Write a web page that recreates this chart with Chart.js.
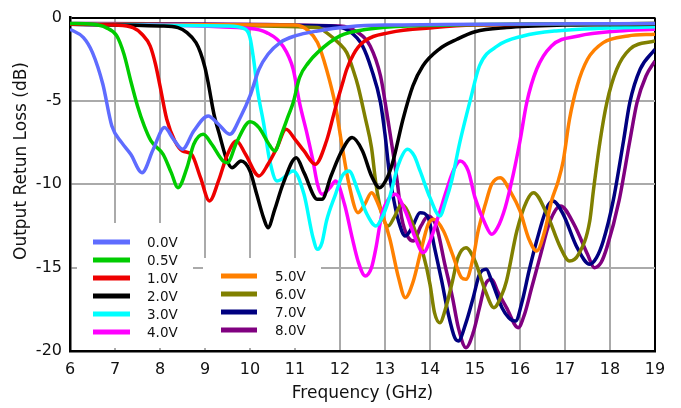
<!DOCTYPE html>
<html>
<head>
<meta charset="utf-8">
<script src="https://cdn.jsdelivr.net/npm/chart.js@4.4.1/dist/chart.umd.min.js"></script>
<style>
  html, body { margin: 0; padding: 0; background: #fff; }
  #wrap { width: 681px; height: 408px; position: relative; }
</style>
</head>
<body>
<div id="wrap"><canvas id="chart"></canvas></div>
<script>
// axis ticks
const freqTicks = [6, 7, 8, 9, 10, 11, 12, 13, 14, 15, 16, 17, 18, 19];
const lossTicks = [0, -5, -10, -15, -20];

// bias voltages (legend labels)
const biasLabels = ["0.0V", "0.5V", "1.0V", "2.0V", "3.0V", "4.0V", "5.0V", "6.0V", "7.0V", "8.0V"];

// [frequency GHz, return loss dB]
const v00 = [[6, -0.7], [6.3, -1.2], [6.5, -2.1], [6.73, -4.0], [6.93, -6.5], [7.15, -7.5], [7.35, -8.2], [7.6, -9.3],
  [7.85, -7.9], [8.1, -6.6], [8.3, -7.3], [8.5, -7.9], [8.75, -6.8], [9.07, -5.9], [9.3, -6.4], [9.55, -7.0],
  [9.8, -5.9], [10.0, -4.7], [10.2, -3.1], [10.4, -2.2], [10.67, -1.5], [11.0, -1.1], [11.5, -0.8], [12.2, -0.55],
  [13, -0.45], [19, -0.35]];
const v05 = [[6, -0.35], [6.5, -0.4], [6.8, -0.6], [7.04, -1.1], [7.2, -2.2], [7.35, -3.8], [7.5, -5.3], [7.65, -6.5],
  [7.8, -7.4], [8.07, -8.2], [8.25, -9.3], [8.4, -10.2], [8.6, -9.0], [8.75, -7.6], [8.96, -7.0], [9.15, -7.6],
  [9.4, -8.6], [9.5, -8.7], [9.7, -7.5], [10.0, -6.25], [10.2, -6.6], [10.4, -7.5], [10.55, -8.0], [10.7, -7.0],
  [10.85, -5.9], [10.96, -5.1], [11.1, -3.6], [11.3, -2.7], [11.5, -2.1], [12, -1.1], [12.6, -0.7], [13.5, -0.5],
  [19, -0.35]];
const v10 = [[6, -0.4], [7, -0.45], [7.4, -0.6], [7.6, -1.0], [7.78, -1.7], [7.9, -2.8], [8.0, -4.1], [8.15, -6.1],
  [8.33, -7.4], [8.5, -8.0], [8.7, -8.2], [8.9, -9.6], [9.1, -11.0], [9.3, -9.8], [9.5, -8.2], [9.7, -7.4],
  [9.9, -8.2], [10.2, -9.5], [10.4, -8.8], [10.6, -7.8], [10.8, -6.7], [11.0, -7.3], [11.2, -8.0], [11.45, -8.8],
  [11.7, -7.4], [11.9, -5.4], [12.05, -4.0], [12.15, -3.1], [12.3, -2.2], [12.5, -1.5], [13.1, -0.9], [14.1, -0.6],
  [15, -0.45], [19, -0.35]];
const v20 = [[6, -0.4], [8, -0.5], [8.4, -0.6], [8.6, -0.9], [8.8, -1.5], [8.9, -2.1], [9.0, -3.0], [9.07, -3.9],
  [9.2, -5.8], [9.33, -7.1], [9.48, -8.5], [9.6, -9.0], [9.8, -8.6], [10.0, -9.2], [10.15, -10.6], [10.3, -12.0],
  [10.4, -12.6], [10.55, -11.5], [10.73, -10.0], [11.03, -8.4], [11.2, -9.3], [11.5, -10.9], [11.6, -10.9],
  [11.8, -9.5], [12.04, -8.0], [12.27, -7.2], [12.5, -8.0], [12.7, -9.5], [12.88, -10.2], [13.05, -9.6],
  [13.18, -8.6], [13.4, -6.1], [13.62, -4.1], [13.84, -2.9], [14.2, -1.9], [14.6, -1.3], [15, -0.85],
  [15.7, -0.6], [17, -0.45], [19, -0.4]];
const v30 = [[6, -0.4], [9.5, -0.5], [9.9, -0.7], [10.0, -1.2], [10.08, -2.5], [10.17, -4.4], [10.3, -6.3],
  [10.44, -8.6], [10.6, -9.8], [10.7, -9.7], [10.96, -9.2], [11.2, -10.6], [11.4, -13.2], [11.5, -13.9],
  [11.6, -13.5], [11.7, -12.2], [11.9, -10.6], [12.05, -9.5], [12.2, -9.2], [12.4, -10.4], [12.6, -11.8],
  [12.8, -12.5], [12.95, -11.9], [13.1, -10.8], [13.3, -8.8], [13.5, -7.9], [13.65, -8.3], [13.78, -9.2],
  [14.0, -10.8], [14.22, -11.9], [14.35, -11.0], [14.48, -9.8], [14.67, -7.4], [14.9, -4.9], [15.1, -2.9],
  [15.5, -1.7], [16.07, -1.1], [16.8, -0.8], [19, -0.55]];
const v40 = [[6, -0.4], [10, -0.65], [10.37, -0.9], [10.73, -1.7], [10.96, -3.1], [11.1, -5.1], [11.27, -7.0],
  [11.4, -8.6], [11.5, -10.0], [11.6, -10.6], [11.78, -10.2], [11.9, -9.8], [12.1, -11.2], [12.27, -13.2],
  [12.4, -14.6], [12.56, -15.5], [12.7, -15.0], [12.8, -13.8], [12.93, -11.8], [13.1, -10.8], [13.23, -10.6],
  [13.45, -11.6], [13.67, -13.2], [13.85, -14.1], [14.0, -13.4], [14.2, -11.8], [14.35, -10.5], [14.5, -9.3],
  [14.67, -8.6], [14.85, -9.2], [15.0, -10.8], [15.23, -12.4], [15.37, -13.0], [15.5, -12.6], [15.67, -11.4],
  [15.85, -9.4], [16.0, -7.4], [16.15, -5.1], [16.37, -3.1], [16.7, -1.7], [17.3, -1.1], [18.2, -0.8], [19, -0.7]];
const v50 = [[6, -0.4], [11, -0.45], [11.3, -0.8], [11.5, -1.5], [11.7, -3.1], [11.9, -5.3], [12.04, -7.6],
  [12.2, -10.0], [12.4, -11.7], [12.55, -11.2], [12.7, -10.5], [12.85, -11.2], [13.1, -13.2], [13.3, -15.6],
  [13.45, -16.8], [13.63, -15.8], [13.78, -14.2], [13.96, -12.4], [14.08, -12.1], [14.3, -12.8], [14.5, -14.2],
  [14.7, -15.6], [14.8, -15.7], [14.96, -14.4], [15.07, -12.8], [15.23, -11.2], [15.37, -10.0], [15.56, -9.6],
  [15.8, -10.5], [16.0, -11.6], [16.2, -13.3], [16.37, -14.0], [16.55, -12.8], [16.7, -11.0], [16.85, -9.8],
  [16.96, -8.6], [17.1, -6.1], [17.27, -4.1], [17.5, -2.5], [17.85, -1.5], [18.4, -1.1], [19, -1.0]];
const v60 = [[6, -0.4], [11.5, -0.6], [11.7, -0.9], [12.0, -1.6], [12.15, -2.1], [12.3, -3.2], [12.4, -4.1],
  [12.56, -6.0], [12.7, -7.8], [12.8, -10.0], [12.93, -11.8], [13.07, -12.5], [13.2, -12.0], [13.37, -11.2],
  [13.5, -11.6], [13.67, -12.8], [13.85, -14.2], [14.0, -16.0], [14.1, -17.7], [14.22, -18.3], [14.33, -17.6],
  [14.5, -15.8], [14.62, -14.4], [14.8, -13.8], [15.0, -14.6], [15.23, -16.4], [15.42, -17.4], [15.6, -16.6],
  [15.7, -15.8], [15.93, -12.8], [16.15, -11.0], [16.3, -10.5], [16.6, -11.8], [16.9, -13.8], [17.1, -14.6],
  [17.3, -14.2], [17.55, -12.2], [17.63, -10.4], [17.78, -7.4], [17.93, -5.1], [18.15, -3.1], [18.44, -1.9],
  [19, -1.4]];
const v70 = [[6, -0.4], [11.8, -0.5], [12.2, -0.8], [12.5, -1.7], [12.7, -3.1], [12.9, -5.1], [13.0, -7.0],
  [13.1, -9.4], [13.2, -11.0], [13.3, -12.2], [13.45, -13.1], [13.6, -12.6], [13.78, -11.7], [13.96, -12.0],
  [14.1, -13.8], [14.26, -15.8], [14.4, -17.7], [14.55, -19.2], [14.63, -19.4], [14.8, -18.3], [14.96, -16.8],
  [15.1, -15.4], [15.25, -15.1], [15.37, -15.8], [15.6, -17.4], [15.75, -18.0], [15.9, -18.2], [16.05, -17.0],
  [16.2, -15.2], [16.37, -13.4], [16.6, -11.4], [16.73, -11.0], [16.96, -11.8], [17.27, -13.8], [17.55, -14.8],
  [17.7, -14.4], [17.85, -13.4], [18.07, -11.0], [18.3, -7.4], [18.44, -5.1], [18.67, -3.1], [19, -1.9]];
const v80 = [[6, -0.35], [12.0, -0.5], [12.4, -0.9], [12.67, -1.7], [12.9, -3.5], [13.04, -5.7], [13.15, -7.6],
  [13.27, -9.8], [13.37, -12.0], [13.52, -13.2], [13.63, -13.4], [13.8, -12.5], [13.96, -11.9], [14.15, -12.6],
  [14.33, -14.8], [14.5, -16.8], [14.63, -18.6], [14.8, -19.8], [14.96, -18.9], [15.1, -17.4], [15.23, -16.0],
  [15.37, -15.7], [15.5, -16.4], [15.7, -17.4], [15.96, -18.6], [16.1, -17.8], [16.25, -16.3], [16.44, -14.4],
  [16.67, -12.2], [16.9, -11.3], [17.2, -12.4], [17.5, -14.2], [17.65, -15.0], [17.8, -14.7], [17.93, -13.8],
  [18.2, -11.0], [18.44, -7.4], [18.6, -5.1], [18.8, -3.5], [19, -2.6]];

const seriesValues = [v00, v05, v10, v20, v30, v40, v50, v60, v70, v80];
const seriesColors = ["#5f6cff", "#00cc00", "#ee0000", "#000000", "#00ffff",
  "#ff00ff", "#ff8000", "#808000", "#000080", "#800080"];

const FONT = "'DejaVu Sans', Verdana, sans-serif";

// legend drawn in two white boxes inside the plot, like the original
const legendPlugin = {
  id: "boxLegend",
  beforeDatasetsDraw(chart) {
    const ctx = chart.ctx;
    const boxes = [
      { x: 77, y: 223, w: 116, h: 125, from: 0, to: 6, row0: 242, lx: 93, lw: 37, tx: 147 },
      { x: 203, y: 258, w: 118, h: 90, from: 6, to: 10, row0: 276, lx: 221, lw: 36, tx: 275 }
    ];
    ctx.save();
    boxes.forEach(b => {
      ctx.fillStyle = "#fff";
      ctx.fillRect(b.x, b.y, b.w, b.h);
      for (let i = b.from; i < b.to; i++) {
        const y = b.row0 + (i - b.from) * 18;
        const ds = chart.data.datasets[i];
        ctx.strokeStyle = ds.borderColor;
        ctx.lineWidth = 5;
        ctx.beginPath();
        ctx.moveTo(b.lx, y);
        ctx.lineTo(b.lx + b.lw, y);
        ctx.stroke();
        ctx.fillStyle = "#111";
        ctx.font = "13.5px " + FONT;
        ctx.textBaseline = "middle";
        ctx.textAlign = "left";
        ctx.fillText(ds.label, b.tx, y + 1);
      }
    });
    ctx.restore();
  },
  afterDraw(chart) {
    const ctx = chart.ctx;
    ctx.save();
    ctx.translate(22, 161);
    ctx.rotate(-Math.PI / 2);
    ctx.fillStyle = "#111";
    ctx.font = "17px " + FONT;
    ctx.textAlign = "center";
    ctx.textBaseline = "middle";
    ctx.fillText("Output Retun Loss (dB)", 0, 0);
    ctx.restore();
  }
};

new Chart(document.getElementById("chart"), {
  type: "line",
  data: {
    datasets: seriesValues.map((vals, i) => ({
      label: biasLabels[i],
      data: vals.map(p => ({ x: p[0], y: p[1] })),
      borderColor: seriesColors[i],
      backgroundColor: seriesColors[i],
      borderWidth: 3.5,
      pointRadius: 0,
      cubicInterpolationMode: "monotone",
      fill: false
    }))
  },
  options: {
    responsive: true,
    maintainAspectRatio: false,
    animation: false,
    layout: { padding: { top: 14, right: 26, left: 0, bottom: 0 } },
    plugins: {
      legend: { display: false },
      tooltip: { enabled: false }
    },
    scales: {
      x: {
        type: "linear",
        min: 6,
        max: 19,
        afterBuildTicks: s => { s.ticks = freqTicks.map(v => ({ value: v })); },
        afterFit: s => { s.height = 57; },
        grid: {
          drawTicks: false,
          lineWidth: 2,
          color: c => (c.tick && c.tick.value === 19 ? "#000" : "#aaaaaa")
        },
        border: { color: "#000", width: 2.5 },
        ticks: { padding: 9, color: "#111", font: { family: FONT, size: 16 } },
        title: {
          display: true,
          text: "Frequency (GHz)",
          color: "#111",
          font: { family: FONT, size: 17 },
          padding: { top: 0, bottom: 4 }
        }
      },
      y: {
        min: -20,
        max: 0,
        afterBuildTicks: s => { s.ticks = lossTicks.map(v => ({ value: v })); },
        afterFit: s => { s.width = 70; },
        grid: {
          drawTicks: false,
          lineWidth: 2,
          color: c => (c.tick && c.tick.value === 0 ? "#000" : "#aaaaaa")
        },
        border: { color: "#000", width: 2.5 },
        ticks: { padding: 8, color: "#111", font: { family: FONT, size: 16 } }
      }
    }
  },
  plugins: [legendPlugin]
});
</script>
</body>
</html>
